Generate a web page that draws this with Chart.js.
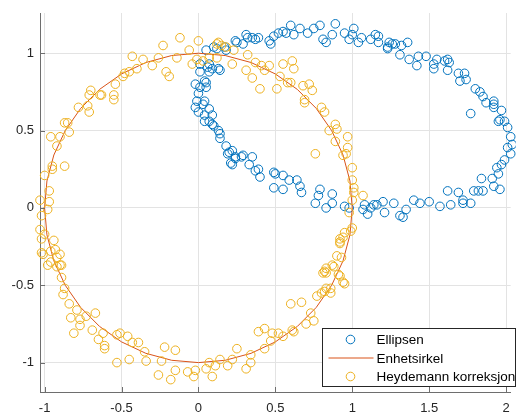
<!DOCTYPE html>
<html lang="no">
<head>
  <meta charset="UTF-8" />
  <title>Heydemann korreksjon</title>
  <script src="https://cdn.jsdelivr.net/npm/chart.js"></script>
  <style>
    body { margin: 0; background: #ffffff; }
    .wrap { position: relative; width: 516px; height: 415px; }
  </style>
</head>
<body>
  <div class="wrap">
    <canvas id="plot" width="516" height="415"></canvas>
  </div>
  <script>
    const xTicks = [-1, -0.5, 0, 0.5, 1, 1.5, 2];
    const yTicks = [-1, -0.5, 0, 0.5, 1];

    // Ellipsen (raw measurements)
    const ellipX = [0.05,0.10,0.17,0.18,0.24,0.31,0.29,0.35,0.07,0.09,0.13,0.01,0.05,-0.02,0.01,0.00,-0.01,0.04,-0.02,0.00,
      0.04,0.07,0.09,0.04,0.07,0.09,0.13,0.14,0.18,0.20,0.22,0.24,0.28,0.35,0.33,0.37,
      0.12,0.25,0.32,0.37,0.39,0.46,0.47,0.49,0.52,0.55,0.57,0.60,0.62,0.66,0.71,0.75,0.79,0.81,0.83,0.89,0.95,0.98,
      0.01,0.06,0.07,0.14,0.04,0.05,0.03,0.10,0.14,
      0.22,0.19,0.24,0.29,0.21,0.39,0.40,0.49,0.50,0.55,0.59,0.49,0.55,0.64,0.66,0.67,0.79,0.78,0.76,0.87,0.87,0.83,0.95,0.98,
      1.08,1.14,1.20,1.27,1.40,1.44,1.50,1.62,1.64,1.69,1.72,1.77,1.79,1.84,1.85,1.92,1.96,1.94,1.97,1.99,2.03,2.01,2.04,2.03,2.01,1.99,
      1.96,1.97,1.92,1.92,1.87,1.85,1.83,1.80,1.77,1.74,1.70,1.69,1.62,1.60,1.55,1.53,1.48,1.43,1.42,1.37,1.31,1.36,1.26,1.23,1.17,1.15,
      1.12,1.06,1.01,1.00,1.04,0.87,
      1.17,1.24,1.23,1.28,1.32,1.53,1.62,1.63,1.73,1.92,1.95,
      1.95,1.91,1.82,1.72,1.57,1.35,1.33,1.21,1.16,1.12,1.10,1.07,1.31];
    const ellipY = [1.02,1.04,1.04,1.02,1.08,1.12,1.06,1.10,0.93,0.90,0.90,0.88,0.81,0.80,0.78,0.74,0.69,0.69,0.65,0.62,
      0.60,0.64,0.60,0.56,0.56,0.54,0.50,0.45,0.40,0.36,0.28,0.32,0.33,0.33,0.28,0.24,
      1.03,1.07,1.10,1.09,1.10,1.08,1.06,1.11,1.13,1.14,1.13,1.18,1.12,1.16,1.13,1.16,1.18,1.09,1.07,1.19,1.13,1.09,
      0.93,0.91,0.88,0.89,0.82,0.78,0.67,0.53,0.48,
      0.37,0.35,0.33,0.34,0.29,0.25,0.20,0.23,0.22,0.21,0.18,0.13,0.12,0.18,0.14,0.10,0.12,0.08,0.03,0.09,0.03,0.00,0.01,0.00,
      0.02,0.02,0.04,0.03,0.05,0.03,0.04,0.11,0.02,0.10,0.05,0.03,0.11,0.19,0.11,0.14,0.12,0.26,0.28,0.31,0.35,0.39,0.41,0.46,0.52,0.56,
      0.57,0.63,0.67,0.69,0.68,0.72,0.75,0.77,0.61,0.83,0.82,0.87,0.89,0.95,0.96,0.90,0.98,0.98,0.92,0.96,0.99,1.07,1.06,1.04,1.07,1.12,
      1.09,1.10,1.16,1.12,1.07,1.12,
      1.11,1.07,1.03,1.06,1.05,0.93,0.96,0.94,0.87,0.65,0.56,
      0.22,0.19,0.11,0.03,0.01,-0.01,-0.06,-0.03,0.02,0.00,-0.04,-0.01,-0.05];

    // Enhetsirkel, 10 degree steps
    const circX = [1,0.985,0.940,0.866,0.766,0.643,0.5,0.342,0.174,0,-0.174,-0.342,-0.5,-0.643,-0.766,-0.866,-0.940,-0.985,-1,
      -0.985,-0.940,-0.866,-0.766,-0.643,-0.5,-0.342,-0.174,0,0.174,0.342,0.5,0.643,0.766,0.866,0.940,0.985,1];
    const circY = [0,0.174,0.342,0.5,0.643,0.766,0.866,0.940,0.985,1,0.985,0.940,0.866,0.766,0.643,0.5,0.342,0.174,0,
      -0.174,-0.342,-0.5,-0.643,-0.766,-0.866,-0.940,-0.985,-1,-0.985,-0.940,-0.866,-0.766,-0.643,-0.5,-0.342,-0.174,0];

    // Heydemann korreksjon (corrected points)
    const corrX = [-0.23,-0.12,-0.06,-0.04,-0.14,-0.26,-0.30,-0.36,-0.43,-0.40,-0.45,-0.48,-0.49,-0.54,-0.21,-0.19,-0.55,-0.55,-0.63,-0.64,
      -0.70,-0.71,-0.72,-0.71,-0.78,-0.87,-0.85,-0.84,-0.96,-0.90,
      -0.92,-0.87,-0.95,-0.95,-1.00,-0.97,-1.03,-0.97,-0.98,-1.02,-1.03,-1.00,-1.02,-0.94,-1.01,-0.96,-0.90,-0.92,-0.96,-0.98,-0.90,-0.92,
      -1.02,-0.93,-0.89,-0.89,-0.87,-0.88,-0.84,-0.79,-0.83,-0.77,-0.73,-0.77,-0.81,-0.67,-0.69,-0.65,-0.62,-0.61,-0.61,-0.53,-0.51,-0.46,
      -0.43,-0.39,-0.35,-0.34,-0.53,-0.45,-0.22,-0.15,-0.24,-0.26,-0.18,-0.15,-0.07,-0.02,-0.03,0.05,0.07,0.11,0.09,0.14,0.19,0.22,0.25,
      0.31,0.34,0.34,0.39,
      0.43,0.43,0.48,0.47,0.52,0.55,0.61,0.62,0.60,0.67,0.70,0.73,0.75,0.77,0.80,0.82,0.86,0.83,0.95,0.81,0.83,0.91,
      1.00,0.99,0.95,0.94,0.92,0.92,0.93,0.88,0.83,0.82,0.92,0.94,0.86,
      0.92,0.90,0.87,0.98,
      0.37,0.41,0.43,0.46,0.40,0.51,0.53,0.55,0.61,0.62,0.58,0.60,0.68,0.72,0.74,0.69,0.69,0.80,0.82,0.89,0.90,0.85,0.89,0.97,0.97,0.94,
      0.96,0.76,1.00,1.00,1.01,1.07,1.01,1.00,
      0.00,0.13,0.15,0.23,0.03,0.12,0.22,0.31,0.32,0.35,0.12,0.18,0.07,-0.01];
    const corrY = [1.05,1.10,1.02,0.93,0.97,0.97,0.92,0.96,0.98,0.90,0.88,0.87,0.85,0.80,0.88,0.85,0.73,0.70,0.73,0.73,
      0.76,0.73,0.66,0.62,0.65,0.55,0.55,0.49,0.46,0.46,
      0.40,0.27,0.27,0.25,0.21,0.11,0.05,0.04,-0.01,-0.05,-0.14,-0.17,-0.20,-0.21,-0.30,-0.28,-0.30,-0.32,-0.35,-0.37,-0.37,-0.38,
      -0.29,-0.27,-0.37,-0.45,-0.52,-0.56,-0.62,-0.66,-0.71,-0.72,-0.70,-0.76,-0.81,-0.68,-0.79,-0.85,-0.81,-0.89,-0.91,-0.82,-0.81,-0.83,
      -0.87,-0.87,-0.93,-0.99,-1.00,-0.98,-0.90,-0.92,-0.99,-1.08,-1.11,-1.05,-1.06,-1.05,-1.09,-1.04,-1.00,-1.02,-1.09,-0.98,-1.02,-0.98,-0.91,
      -1.04,-1.00,-0.95,-0.80,
      -0.78,-0.91,-0.81,-0.86,-0.81,-0.83,-0.79,-0.80,-0.62,-0.61,-0.75,-0.68,-0.73,-0.57,-0.55,-0.54,-0.55,-0.52,-0.49,-0.42,-0.42,-0.43,
      -0.13,-0.15,-0.16,-0.19,-0.20,-0.22,-0.32,-0.38,-0.39,-0.41,-0.44,-0.48,-0.52,
      -0.23,-0.31,-0.37,-0.03,
      0.94,0.92,0.89,0.92,0.77,0.77,0.85,0.93,0.95,0.90,0.81,0.81,0.79,0.80,0.76,0.70,0.68,0.65,0.62,0.54,0.51,0.50,0.43,0.46,0.39,0.34,
      0.35,0.35,0.26,0.18,0.13,0.08,0.10,0.05,
      1.08,1.07,1.05,1.02,0.95,0.97,0.93,0.89,0.99,0.84,1.06,1.04,0.97,0.96];

    const labels = ['Ellipsen', 'Enhetsirkel', 'Heydemann korreksjon'];
    const colors = ['#0072BD', '#D95319', '#EDB120'];

    const toPoints = (xs, ys) => xs.map((x, i) => ({ x: x, y: ys[i] }));

    const axisColor = '#6e6e6e';
    const fontFamily = '"Liberation Sans", Arial, sans-serif';

    // MATLAB-like inner legend box and inward ticks
    const boxLegend = {
      id: 'boxLegend',
      afterDatasetsDraw(chart) {
        const ctx = chart.ctx;
        const a = chart.chartArea;
        const sx = chart.scales.x, sy = chart.scales.y;
        ctx.save();
        ctx.strokeStyle = axisColor;
        ctx.lineWidth = 1;
        ctx.beginPath();
        xTicks.forEach(v => {
          const px = Math.round(sx.getPixelForValue(v)) + 0.5;
          ctx.moveTo(px, a.bottom); ctx.lineTo(px, a.bottom - 5);
        });
        yTicks.forEach(v => {
          const py = Math.round(sy.getPixelForValue(v)) + 0.5;
          ctx.moveTo(a.left, py); ctx.lineTo(a.left + 5, py);
        });
        ctx.stroke();

        const x0 = 322.5, y0 = 328.5, w = 193, h = 58;
        ctx.fillStyle = '#ffffff';
        ctx.fillRect(x0, y0, w, h);
        ctx.strokeStyle = '#262626';
        ctx.strokeRect(x0, y0, w, h);
        ctx.font = '13.5px ' + fontFamily;
        ctx.textBaseline = 'middle';
        chart.data.datasets.forEach((ds, i) => {
          const ry = y0 + 11 + i * 18.5;
          ctx.strokeStyle = ds.borderColor;
          ctx.beginPath();
          if (ds.showLine) {
            ctx.moveTo(x0 + 6, ry); ctx.lineTo(x0 + 51, ry);
          } else {
            ctx.arc(x0 + 28, ry, 4.3, 0, Math.PI * 2);
          }
          ctx.stroke();
          ctx.fillStyle = '#000000';
          ctx.fillText(ds.label, x0 + 54, ry + 1);
        });
        ctx.restore();
      }
    };

    new Chart(document.getElementById('plot').getContext('2d'), {
      type: 'scatter',
      data: {
        datasets: [
          {
            label: labels[0],
            data: toPoints(ellipX, ellipY),
            borderColor: colors[0],
            backgroundColor: 'rgba(0,0,0,0)',
            pointRadius: 4.3,
            borderWidth: 1,
            clip: false,
            order: 2
          },
          {
            label: labels[1],
            data: toPoints(circX, circY),
            showLine: true,
            borderColor: colors[1],
            borderWidth: 1,
            pointRadius: 0,
            tension: 0,
            order: 1
          },
          {
            label: labels[2],
            data: toPoints(corrX, corrY),
            borderColor: colors[2],
            backgroundColor: 'rgba(0,0,0,0)',
            pointRadius: 4.3,
            borderWidth: 1,
            clip: false,
            order: 0
          }
        ]
      },
      options: {
        responsive: false,
        animation: false,
        layout: { padding: { top: 13, right: 0, left: 0, bottom: 0 } },
        plugins: { legend: { display: false }, tooltip: { enabled: false } },
        scales: {
          x: {
            type: 'linear',
            min: -1.03,
            max: 2.03,
            afterBuildTicks: s => { s.ticks = xTicks.map(v => ({ value: v })); },
            afterFit: s => { s.height = 23; s.paddingLeft = 0; s.paddingRight = 0; },
            grid: { color: '#e3e3e3', drawTicks: false },
            border: { color: axisColor, width: 1 },
            ticks: {
              padding: 9,
              color: '#262626',
              font: { family: fontFamily, size: 13 },
              callback: v => String(v)
            }
          },
          y: {
            type: 'linear',
            min: -1.19,
            max: 1.26,
            afterBuildTicks: s => { s.ticks = yTicks.map(v => ({ value: v })); },
            afterFit: s => { s.width = 40; s.paddingTop = 0; s.paddingBottom = 0; },
            grid: { color: '#e3e3e3', drawTicks: false },
            border: { color: axisColor, width: 1 },
            ticks: {
              padding: 6,
              color: '#262626',
              font: { family: fontFamily, size: 13 },
              callback: v => String(v)
            }
          }
        }
      },
      plugins: [boxLegend]
    });
  </script>
</body>
</html>
